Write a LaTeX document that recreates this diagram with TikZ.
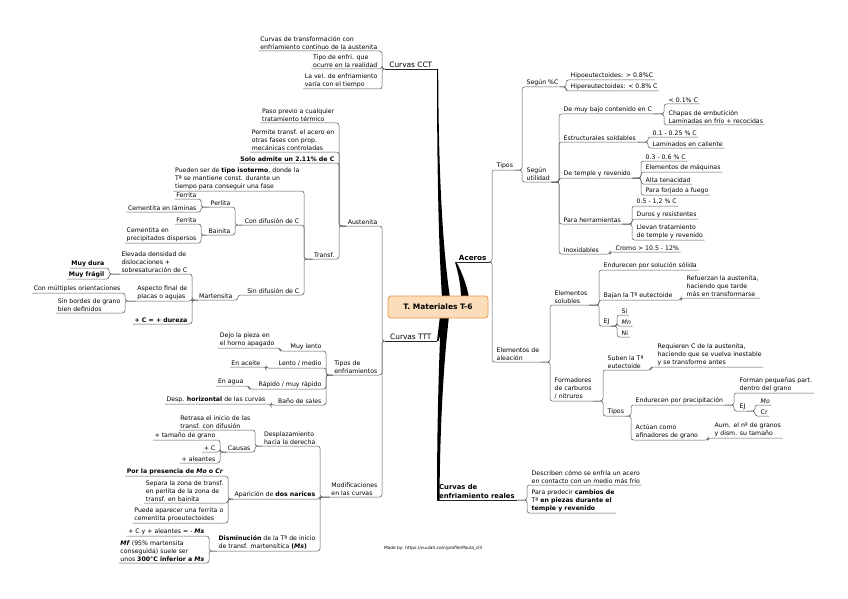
\documentclass[tikz,border=0pt]{standalone}
\usepackage{fontspec}
\setmainfont{DejaVu Sans}
\definecolor{ctrfill}{RGB}{252,221,186}
\definecolor{ctrdraw}{RGB}{232,150,80}
\pgfdeclarelayer{bg}
\pgfsetlayers{bg,main}
\newcommand\linkL[3]{\draw[con] (#1.south west) -- (#1.south west -| #3,0) |- (#2.south west);}
\newcommand\linkR[3]{\draw[con] (#1.south east) -- (#1.south east -| #3,0) |- (#2.south east);}
\begin{document}
\begin{tikzpicture}[x=1pt,y=-1pt,
  con/.style={draw=black!65, line width=0.5pt, rounded corners=2.5pt},
  mainline/.style={draw=black!85, line width=0.7pt},
  nd/.style={inner xsep=1.5pt, inner ysep=1.3pt, align=left, font=\fontsize{6.2}{8}\selectfont},
  L/.style={nd, anchor=south east},
  R/.style={nd, anchor=south west},
  topic/.style={inner xsep=2pt, inner ysep=1.5pt, font=\fontsize{7.4}{9}\selectfont, minimum width=52pt},
  ctr/.style={draw=ctrdraw, fill=ctrfill, rounded corners=3pt, minimum width=100pt, minimum height=22pt, line width=0.8pt, font=\bfseries\fontsize{7.5}{9}\selectfont}]
\useasboundingbox (0,0) rectangle (848,599);

% ---------------- centre and main topics
\node[ctr] (c) at (438,307) {T. Materiales T-6};
\node[topic, anchor=south east] (cct) at (437,69) {Curvas CCT};
\node[topic, anchor=south east] (ttt) at (437,341) {Curvas TTT};
\node[topic, anchor=south west, minimum width=35pt, font=\bfseries\fontsize{7.2}{9}\selectfont] (ace) at (455,262) {Aceros};
\node[topic, anchor=south west, minimum width=0pt, align=left, font=\bfseries\fontsize{6.8}{9}\selectfont] (rea) at (437,500) {Curvas de\\enfriamiento reales};
\foreach \n in {cct,ttt,ace,rea} \draw[mainline] (\n.south west) -- (\n.south east);

\begin{pgfonlayer}{bg}
\fill[white] (0,0) rectangle (848,599);
\fill[black] (cct.south east) .. controls (437,180) and (439,250) .. (442,298) -- (450,298) .. controls (443,250) and (438.5,180) .. ([xshift=1.2pt]cct.south east) -- cycle;
\fill[black] (ttt.south east) -- (440,316) -- (446,316) -- ([xshift=1.5pt]ttt.south east) -- cycle;
\fill[black] (rea.south west) .. controls (437,420) and (439,360) .. (441,316) -- (449,316) .. controls (444,360) and (440,420) .. ([xshift=2.5pt]rea.south west) -- cycle;
\fill[black] (ace.south west) .. controls (458,272) and (461,285) .. (461,298) -- (469,298) .. controls (467,285) and (461,270) .. ([xshift=1.2pt]ace.south west) -- cycle;
\end{pgfonlayer}

% ---------------- Curvas CCT
\node[L] (cc1) at (379,51) {Curvas de transformación con\\enfriamiento continuo de la austenita};
\node[L] (cc2) at (379,69) {Tipo de enfri. que\\ocurre en la realidad};
\node[L] (cc3) at (379,89) {La vel. de enfriamiento\\varía con el tiempo};
\linkL{cct}{cc1}{382} \linkL{cct}{cc2}{382} \linkL{cct}{cc3}{382}

% ---------------- Curvas TTT
\node[L] (aus) at (379,226) {Austenita};
\node[L] (tenf) at (379,375) {Tipos de\\enfriamientos};
\node[L] (mod) at (379,497) {Modificaciones\\en las curvas};
\linkL{ttt}{aus}{382} \linkL{ttt}{tenf}{382} \linkL{ttt}{mod}{382}

% Austenita
\node[L] (a1) at (336,123) {Paso previo a cualquier\\tratamiento térmico};
\node[L] (a2) at (336,152) {Permite transf. el acero en\\otras fases con prop.\\mecánicas controladas};
\node[L] (a3) at (336,163) {\textbf{Solo admite un 2.11\% de C}};
\node[L] (tr) at (336,259) {Transf.};
\linkL{aus}{a1}{339} \linkL{aus}{a2}{339} \linkL{aus}{a3}{339} \linkL{aus}{tr}{339}

% Transf.
\node[L] (pu) at (301,191) {Pueden ser de \textbf{tipo isotermo}, donde la\\Tª se mantiene const. durante un\\tiempo para conseguir una fase};
\node[L] (cd) at (301,225) {Con difusión de C};
\node[L] (sd) at (301,295) {Sin difusión de C};
\linkL{tr}{pu}{304} \linkL{tr}{cd}{304} \linkL{tr}{sd}{304}

\node[L] (per) at (232,207) {Perlita};
\node[L] (bai) at (232,235) {Bainita};
\linkL{cd}{per}{235} \linkL{cd}{bai}{235}
\node[L] (pf) at (198,199) {Ferrita};
\node[L] (pc) at (198,212) {Cementita en láminas};
\linkL{per}{pf}{201} \linkL{per}{pc}{201}
\node[L] (bf) at (198,224) {Ferrita};
\node[L] (bc) at (198,243) {Cementita en\\precipitados dispersos};
\linkL{bai}{bf}{201} \linkL{bai}{bc}{201}

\node[L] (mar) at (234,300) {Martensita};
\linkL{sd}{mar}{238}
\node[L] (el) at (189,274) {Elevada densidad de\\dislocaciones +\\sobresaturación de C};
\node[L] (asp) at (189,301) {Aspecto final de\\placas o agujas};
\node[L] (du) at (189,324) {\textbf{+ C = + dureza}};
\linkL{mar}{el}{192} \linkL{mar}{asp}{192} \linkL{mar}{du}{192}
\node[L] (md) at (106,268) {\textbf{Muy dura}};
\node[L] (mf) at (106,279) {\textbf{Muy frágil}};
\linkL{el}{md}{109} \linkL{el}{mf}{109}
\node[L] (co) at (122,293) {Con múltiples orientaciones};
\node[L] (sb) at (122,313) {Sin bordes de grano\\bien definidos};
\linkL{asp}{co}{125} \linkL{asp}{sb}{125}

% Tipos de enfriamientos
\node[L] (ml) at (323,351) {Muy lento};
\node[L] (lm) at (323,368) {Lento / medio};
\node[L] (rr) at (323,389) {Rápido / muy rápido};
\node[L] (bs) at (323,405) {Baño de sales};
\linkL{tenf}{ml}{326} \linkL{tenf}{lm}{326} \linkL{tenf}{rr}{326} \linkL{tenf}{bs}{326}
\node[L] (dj) at (276,348) {Dejo la pieza en\\el horno apagado};
\linkL{ml}{dj}{280}
\node[L] (ea) at (262,367) {En aceite};
\linkL{lm}{ea}{266}
\node[L] (eg) at (245,386) {En agua};
\linkL{rr}{eg}{249}
\node[L] (dh) at (267,404) {Desp. \textbf{horizontal} de las curvas};
\linkL{bs}{dh}{271}

% Modificaciones
\node[L] (des) at (317,446) {Desplazamiento\\hacia la derecha};
\node[L] (apa) at (317,499) {Aparición de \textbf{dos narices}};
\node[L] (dis) at (317,551) {\textbf{Disminución} de la Tª de inicio\\de transf. martensítica \textbf{(\textit{Ms})}};
\linkL{mod}{des}{320} \linkL{mod}{apa}{320} \linkL{mod}{dis}{320}
\node[L] (ret) at (252,430) {Retrasa el inicio de las\\transf. con difusión};
\node[L] (cau) at (252,452) {Causas};
\linkL{des}{ret}{255} \linkL{des}{cau}{255}
\node[L] (tg) at (217,440) {+ tamaño de grano};
\node[L] (pcc) at (217,452) {+ C};
\node[L] (ale) at (217,463) {+ aleantes};
\linkL{cau}{tg}{220} \linkL{cau}{pcc}{220} \linkL{cau}{ale}{220}
\node[L] (pp) at (225,476) {\textbf{Por la presencia de \textit{Mo} o \textit{Cr}}};
\node[L] (sep) at (225,503) {Separa la zona de transf.\\en perlita de la zona de\\transf. en bainita};
\node[L] (pue) at (225,523) {Puede aparecer una ferrita o\\cementita proeutectoides};
\linkL{apa}{pp}{228} \linkL{apa}{sep}{228} \linkL{apa}{pue}{228}
\node[L] (cy) at (206,536) {+ C y + aleantes = - \textbf{\textit{Ms}}};
\node[L] (mff) at (206,563) {\textbf{\textit{Mf}} (95\% martensita\\conseguida) suele ser\\unos \textbf{300°C inferior a \textit{Ms}}};
\linkL{dis}{cy}{209} \linkL{dis}{mff}{209}

% ---------------- Aceros
\node[R] (tipos) at (495,170) {Tipos};
\node[R] (elal) at (495,362) {Elementos de\\aleación};
\linkR{ace}{tipos}{492} \linkR{ace}{elal}{492}
\node[R] (segc) at (525,87) {Según \%C};
\node[R] (segu) at (525,182) {Según\\utilidad};
\linkR{tipos}{segc}{522} \linkR{tipos}{segu}{522}
\node[R] (hipo) at (569,80) {Hipoeutectoides: > 0.8\%C};
\node[R] (hipe) at (569,91) {Hipereutectoides: < 0.8\% C};
\linkR{segc}{hipo}{566} \linkR{segc}{hipe}{566}

\node[R] (muy) at (562,114) {De muy bajo contenido en C};
\node[R] (est) at (562,142) {Estructurales soldables};
\node[R] (tem) at (562,178) {De temple y revenido};
\node[R] (her) at (562,224) {Para herramientas};
\node[R] (ino) at (562,254) {Inoxidables};
\linkR{segu}{muy}{559} \linkR{segu}{est}{559} \linkR{segu}{tem}{559} \linkR{segu}{her}{559} \linkR{segu}{ino}{559}
\node[R] (m1) at (667,104) {< 0.1\% C};
\node[R] (m2) at (667,125) {Chapas de embutición\\Laminadas en frío + recocidas};
\linkR{muy}{m1}{664} \linkR{muy}{m2}{664}
\node[R] (e1) at (651,137) {0.1 - 0.25 \% C};
\node[R] (e2) at (651,148) {Laminados en caliente};
\linkR{est}{e1}{648} \linkR{est}{e2}{648}
\node[R] (t1) at (644,161) {0.3 - 0.6 \% C};
\node[R] (t2) at (644,172) {Elementos de máquinas};
\node[R] (t3) at (644,184) {Alta tenacidad};
\node[R] (t4) at (644,195) {Para forjado a fuego};
\linkR{tem}{t1}{641} \linkR{tem}{t2}{641} \linkR{tem}{t3}{641} \linkR{tem}{t4}{641}
\node[R] (h1) at (635,206) {0.5 - 1,2 \% C};
\node[R] (h2) at (635,219) {Duros y resistentes};
\node[R] (h3) at (635,240) {Llevan tratamiento\\de temple y revenido};
\linkR{her}{h1}{632} \linkR{her}{h2}{632} \linkR{her}{h3}{632}
\node[R] (cro) at (614,252) {Cromo > 10.5 - 12\%};
\linkR{ino}{cro}{610}

\node[R] (sol) at (553,305) {Elementos\\solubles};
\node[R] (form) at (553,401) {Formadores\\de carburos\\/ nitruros};
\linkR{elal}{sol}{550} \linkR{elal}{form}{550}
\node[R] (s1) at (602,270) {Endurecen por solución sólida};
\node[R] (s2) at (602,300) {Bajan la Tª eutectoide};
\node[R] (s3) at (602,326) {EJ};
\linkR{sol}{s1}{599} \linkR{sol}{s2}{599} \linkR{sol}{s3}{599}
\node[R] (ref) at (685,298) {Refuerzan la austenita,\\haciendo que tarde\\más en transformarse};
\linkR{s2}{ref}{681}
\node[R] (si) at (620,315) {Si};
\node[R] (mn) at (620,326) {\textit{Mn}};
\node[R] (ni) at (620,337) {Ni};
\linkR{s3}{si}{617} \linkR{s3}{mn}{617} \linkR{s3}{ni}{617}

\node[R] (sub) at (606,370) {Suben la Tª\\eutectoide};
\node[R] (tip2) at (606,416) {Tipos};
\linkR{form}{sub}{603} \linkR{form}{tip2}{603}
\node[R] (req) at (656,367) {Requieren C de la austenita,\\haciendo que se vuelva inestable\\y se transforme antes};
\linkR{sub}{req}{651}
\node[R] (endp) at (634,405) {Endurecen por precipitación};
\node[R] (act) at (634,440) {Actúan como\\afinadores de grano};
\linkR{tip2}{endp}{631} \linkR{tip2}{act}{631}
\node[R] (fp) at (738,393) {Forman pequeñas part.\\dentro del grano};
\node[R] (ej2) at (738,411) {EJ};
\linkR{endp}{fp}{734} \linkR{endp}{ej2}{734}
\node[R] (mo) at (759,405) {\textit{Mo}};
\node[R] (cr) at (759,416) {Cr};
\linkR{ej2}{mo}{755} \linkR{ej2}{cr}{755}
\node[R] (aum) at (713,438) {Aum. el nº de granos\\y dism. su tamaño};
\linkR{act}{aum}{708}

% ---------------- Curvas de enfriamiento reales
\node[R] (r1) at (530,485) {Describen cómo se enfría un acero\\en contacto con un medio más frío};
\node[R] (r2) at (530,513) {Para predecir \textbf{cambios de}\\Tª \textbf{en piezas durante el}\\\textbf{temple y revenido}};
\linkR{rea}{r1}{527} \linkR{rea}{r2}{527}

\node[font=\fontsize{4.3}{5}\selectfont, inner sep=0pt] (mb) at (433,548) {Made by: https://vuulah.com/profile/Paula\_clll};
\end{tikzpicture}
\end{document}
